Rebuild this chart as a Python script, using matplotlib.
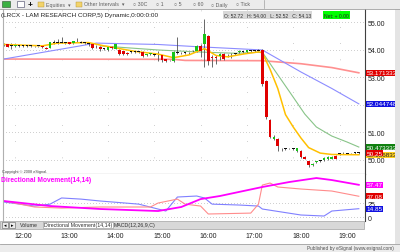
import matplotlib
matplotlib.use("Agg")
import matplotlib.pyplot as plt
from matplotlib.patches import Rectangle
from matplotlib.transforms import blended_transform_factory

plt.rcParams['font.family'] = ['Liberation Sans', 'DejaVu Sans']

# 5 minute bars, 11:35 .. 19:15 (bar index 0..92)
hour_labels = ['12:00', '13:00', '14:00', '15:00', '16:00', '17:00', '18:00', '19:00']
hour_bars = [5, 17, 29, 41, 53, 65, 77, 89]

opens = [54.20, 54.20, 54.16, 54.13, 54.16, 54.15, 54.14, 54.15, 54.13, 54.14,
         54.13, 54.08, 54.08, 54.27, 54.25, 54.27, 54.25, 54.29, 54.24, 54.31,
         54.27, 54.25, 54.22, 54.20, 54.13, 54.12, 54.04, 54.00, 54.10, 54.05,
         54.00, 53.95, 53.90, 53.93, 53.93, 53.92, 53.93, 53.80, 53.84, 53.82,
         53.80, 53.80, 53.67, 53.62, 53.60, 53.90, 53.88, 53.90, 53.88, 53.95,
         53.96, 54.15, 54.22, 54.51, 53.75, 53.76, 53.78, 53.85, 53.80, 53.80,
         53.85, 53.92, 53.93, 53.92, 53.96, 53.96, 53.98, 54.00, 52.87, 51.45,
         50.76, 50.76, 50.42, 50.40, 50.42, 50.40, 50.33, 50.33, 50.12, 49.96,
         49.82, 49.92, 49.96, 50.00, 50.03, 50.04, 50.15, 50.22, 50.24, 50.22,
         50.24, 50.27, 50.25]
closes = [54.20, 54.12, 54.16, 54.17, 54.16, 54.15, 54.14, 54.15, 54.13, 54.14,
          54.09, 54.04, 54.29, 54.27, 54.25, 54.27, 54.25, 54.22, 54.31, 54.31,
          54.27, 54.25, 54.22, 54.07, 54.13, 54.05, 54.04, 54.10, 54.08, 54.20,
          53.85, 53.85, 53.85, 53.93, 53.93, 53.92, 53.78, 53.85, 53.88, 53.82,
          53.80, 53.62, 53.60, 53.62, 53.93, 53.90, 53.88, 53.90, 53.88, 53.97,
          54.15, 53.96, 54.58, 53.60, 53.70, 53.72, 53.85, 53.67, 53.80, 53.80,
          53.85, 53.98, 53.93, 53.99, 53.96, 53.96, 53.98, 52.76, 51.56, 50.84,
          50.84, 50.51, 50.42, 50.40, 50.42, 50.40, 50.42, 50.11, 50.04, 49.80,
          49.86, 49.96, 49.96, 50.08, 50.11, 50.11, 50.04, 50.22, 50.24, 50.22,
          50.24, 50.27, 50.25]
highs = [54.24, 54.22, 54.25, 54.20, 54.18, 54.18, 54.17, 54.17, 54.16, 54.16,
         54.14, 54.09, 54.30, 54.36, 54.40, 54.47, 54.30, 54.30, 54.33, 54.45,
         54.32, 54.30, 54.26, 54.22, 54.18, 54.15, 54.08, 54.12, 54.15, 54.22,
         54.02, 53.97, 53.92, 53.96, 53.95, 53.95, 53.95, 53.87, 53.90, 53.86,
         53.96, 53.82, 53.69, 53.65, 53.95, 54.47, 53.92, 53.93, 53.91, 54.00,
         54.18, 54.22, 55.13, 54.55, 53.82, 53.80, 53.90, 53.88, 53.84, 53.88,
         53.88, 54.00, 53.96, 54.01, 53.99, 53.99, 54.02, 54.02, 52.90, 51.50,
         50.90, 50.80, 50.45, 50.43, 50.45, 50.43, 50.45, 50.35, 50.14, 49.98,
         49.90, 49.98, 50.00, 50.10, 50.13, 50.13, 50.17, 50.26, 50.28, 50.25,
         50.26, 50.30, 50.28]
lows = [54.16, 54.10, 54.04, 54.10, 54.12, 54.12, 54.12, 54.11, 54.11, 54.12,
        54.08, 54.02, 54.06, 54.22, 54.22, 54.24, 54.20, 54.20, 54.22, 54.28,
        54.24, 54.20, 54.16, 54.05, 54.08, 53.98, 54.00, 53.98, 54.05, 54.02,
        53.83, 53.82, 53.82, 53.90, 53.90, 53.89, 53.76, 53.78, 53.82, 53.78,
        53.60, 53.58, 53.58, 53.60, 53.58, 53.85, 53.85, 53.87, 53.85, 53.92,
        53.94, 53.76, 53.38, 53.45, 53.38, 53.50, 53.65, 53.62, 53.76, 53.72,
        53.80, 53.90, 53.90, 53.90, 53.94, 53.93, 53.95, 52.70, 51.50, 50.80,
        50.72, 50.33, 50.33, 50.37, 50.39, 50.37, 50.30, 50.08, 50.02, 49.76,
        49.78, 49.90, 49.92, 49.98, 50.01, 50.02, 50.02, 50.18, 50.20, 50.20,
        50.21, 50.22, 50.22]

# moving averages at a few bars
slow_bars = [0, 44, 47, 67, 77, 85, 92]
slow_ma = [53.67, 53.66, 53.62, 53.61, 53.50, 53.36, 53.17]
blue_bars = [0, 12, 24, 40, 50, 60, 67, 77, 85, 92]
blue_ma = [53.67, 53.96, 54.25, 54.20, 54.12, 54.05, 54.00, 53.20, 52.60, 52.04]
green_bars = [25, 40, 50, 60, 67, 70, 74, 78, 81, 85, 89, 92]
green_ma = [54.15, 54.00, 53.93, 53.88, 53.92, 53.30, 52.49, 51.67, 51.20, 50.87, 50.65, 50.47]
yel_bars = [0, 10, 14, 22, 26, 30, 34, 40, 44, 48, 52, 55, 58, 62, 66, 67, 69, 71,
            73, 75, 77, 79, 82, 85, 92]
yel_ma = [54.20, 54.15, 54.25, 54.27, 54.15, 54.05, 53.95, 53.85, 53.72, 53.82, 54.05,
          53.80, 53.75, 53.85, 53.93, 53.90, 53.30, 52.60, 51.65, 51.20, 50.80, 50.45,
          50.25, 50.20, 50.19]

# directional movement (14,14)
adx_bars = [0, 12, 25, 40, 46, 51, 56, 67, 74, 81, 85, 92]
adx = [28.6, 19.6, 14.3, 10.7, 17.9, 32.0, 37.5, 53.6, 62.5, 69.6, 66.0, 57.47]
mdi_bars = [0, 8, 15, 25, 38, 40, 45, 47, 51, 53, 64, 66, 67, 69, 71, 77, 85, 92]
mdi = [28.6, 17.9, 16.0, 17.9, 17.9, 25.0, 32.0, 23.0, 19.6, 5.4, 7.0, 23.0, 57.0,
       60.7, 53.6, 50.0, 46.4, 37.08]
pdi_bars = [0, 8, 12, 15, 20, 25, 35, 42, 45, 50, 52, 54, 61, 66, 67, 77, 83, 85, 92]
pdi = [26.8, 19.6, 23.0, 34.0, 32.0, 28.6, 23.0, 10.7, 35.7, 37.5, 34.0, 23.0, 21.4,
       19.6, 14.3, 3.6, 1.8, 10.7, 14.85]

price_ticks = [50, 51, 53, 54, 55]   # 52.00 sits under the blue tag
grid_prices = [50, 51, 52, 53, 54, 55]
grid_bars = [3, 15, 27, 39, 51, 63, 75, 87]

W, H = 400, 253
fig = plt.figure(figsize=(4, 2.53), dpi=100)
fig.patch.set_facecolor('white')


def fx(px):
    return px / W


def fy(py):
    return 1 - py / H


ax = fig.add_axes([fx(3), fy(175), fx(362), 165 / H])
ax2 = fig.add_axes([fx(3), fy(222), fx(362), 47 / H], sharex=ax)

# ---- price panel ----
x = list(range(len(closes)))
ax.vlines(x, lows, highs, color='#505050', lw=0.6, zorder=2)
cols, bottoms, heights = [], [], []
for o, c in zip(opens, closes):
    if c > o:
        cols.append('#19C419')
    elif c < o:
        cols.append('#E00000')
    else:
        cols.append('#101010')
    bottoms.append(min(o, c))
    heights.append(max(abs(c - o), 0.025))
ax.bar(x, heights, bottom=bottoms, width=0.7, color=cols, lw=0, zorder=3)

ax.plot(slow_bars, slow_ma, color='#FF9090', lw=1.2, zorder=1)
ax.plot(blue_bars, blue_ma, color='#8C8CFF', lw=0.8, zorder=1)
ax.plot(green_bars, green_ma, color='#88C488', lw=0.8, zorder=1)
ax.plot(yel_bars, yel_ma, color='#FFC000', lw=1.1, zorder=2)

ax.set_xlim(-0.18, 93.6)
ax.set_ylim(49.49, 55.49)
ax.yaxis.tick_right()
ax.set_yticks(price_ticks, [f'{p:.2f}' for p in price_ticks])
ax.tick_params(axis='y', length=0, pad=2, labelsize=5, labelcolor='#202020')
ax.tick_params(axis='x', length=0, labelbottom=False)
for p in grid_prices:
    ax.axhline(p, color='#909090', linestyle=(0, (0.6, 3)), lw=0.6, zorder=0)
for g in grid_bars:
    ax.axvline(g, color='#909090', linestyle=(0, (0.6, 19)), lw=0.6, zorder=0)
ax.spines['top'].set_visible(False)
ax.spines['left'].set_color('#B0B0B0')
ax.spines['right'].set_color('#404040')
ax.spines['bottom'].set_color('#404040')
ax.spines['right'].set_linewidth(0.8)
ax.spines['bottom'].set_linewidth(0.8)

tr = blended_transform_factory(ax.transAxes, ax.transData)
lx = 1.004


def tag(a, t, val, text, bg, fg='white'):
    a.text(lx, val, text, transform=t, fontsize=4.6, color=fg, va='center', ha='left',
           zorder=5, clip_on=False,
           bbox=dict(boxstyle='square,pad=0.1', fc=bg, ec='none'))


tag(ax, tr, slow_ma[-1], '53.171333', '#E00000')
tag(ax, tr, blue_ma[-1], '52.044748', '#1010E0')
tag(ax, tr, green_ma[-1], '50.473333', '#108010')
tag(ax, tr, yel_ma[-1], '50.186833', '#FFD020', '#202020')
tag(ax, tr, closes[-1], '50.25', '#E00000')

# ---- directional movement panel ----
ax2.plot(pdi_bars, pdi, color='#8080FF', lw=0.8)
ax2.plot(mdi_bars, mdi, color='#FF8C8C', lw=0.8)
ax2.plot(adx_bars, adx, color='#FF00FF', lw=1.3)
ax2.set_ylim(-7.1, 76.8)
ax2.yaxis.tick_right()
ax2.set_yticks([0, 25], ['0', '25'])
ax2.tick_params(axis='y', length=0, pad=2, labelsize=5, labelcolor='#202020')
ax2.set_xticks(hour_bars, hour_labels)
ax2.tick_params(axis='x', length=0, pad=7.6, labelsize=5, labelcolor='#202020')
ax2.grid(axis='y', color='#909090', linestyle=(0, (0.6, 3)), lw=0.6)
ax2.spines['top'].set_visible(False)
ax2.spines['left'].set_color('#B0B0B0')
ax2.spines['right'].set_color('#404040')
ax2.spines['bottom'].set_visible(False)
tr2 = blended_transform_factory(ax2.transAxes, ax2.transData)
tag(ax2, tr2, adx[-1], '57.47', '#FF00FF')
tag(ax2, tr2, mdi[-1], '37.08', '#E00000')
tag(ax2, tr2, pdi[-1], '14.85', '#1010E0')

# ---- window chrome ----
fig.patches.append(Rectangle((0, fy(10)), 1, 10 / H, transform=fig.transFigure,
                             fc='#ECECEC', ec='none', zorder=0))
fig.add_artist(plt.Line2D([0, 1], [fy(10), fy(10)], color='#A0A0A0', lw=0.6))
fig.patches.append(Rectangle((fx(2), fy(8)), fx(8), 6 / H, transform=fig.transFigure,
                             fc='#3CB043', ec='#305030', lw=0.4))
fig.patches.append(Rectangle((fx(17), fy(8)), fx(7), 6 / H, transform=fig.transFigure,
                             fc='#FFFFFF', ec='#404060', lw=0.4))
fig.text(fx(28), fy(5), '+', fontsize=6, weight='bold', va='center')
for px, lab in [(38, 'Equities  \u25be'), (76, 'Other Intervals  \u25be')]:
    fig.patches.append(Rectangle((fx(px), fy(8)), fx(6), 5 / H, transform=fig.transFigure,
                                 fc='#F2D36B', ec='#B09030', lw=0.3))
    fig.text(fx(px + 8), fy(5), lab, fontsize=3.8, color='#606060', va='center')
for px, lab in [(133, '\u25cb 30C'), (156, '\u25cb 1'), (174, '\u25cb 5'),
                (193, '\u25cb 60'), (211, '\u25cb Daily'), (236, '\u25cb Tick')]:
    fig.text(fx(px), fy(5), lab, fontsize=3.8, color='#606060', va='center')
fig.add_artist(plt.Line2D([fx(264), fx(264)], [fy(1), fy(9)], color='#A0A0A0', lw=0.5))

fig.text(fx(1), fy(15), '(LRCX - LAM RESEARCH CORP,5) Dynamic,0:00:0:00',
         fontsize=4.6, color='#202020', va='center')
fig.text(fx(224), fy(16), 'O: 52.72   H: 54.00   L: 52.52   C: 54.13',
         fontsize=3.6, color='#303030', va='center',
         bbox=dict(boxstyle='square,pad=0.25', fc='#D8D8D8', ec='none'))
fig.text(fx(324), fy(16), 'Net: + 0.00', fontsize=3.6, color='#202020', va='center',
         bbox=dict(boxstyle='square,pad=0.25', fc='#00FF00', ec='none'))
fig.text(fx(2), fy(172), 'Copyright \u00a9 2008 eSignal.', fontsize=2.8,
         color='#404040', va='center')
fig.text(fx(1), fy(181), 'Directional Movement(14,14)', fontsize=4.8,
         color='#FF00FF', weight='bold', va='center')

# tab bar below indicator panel
fig.patches.append(Rectangle((0, fy(230)), fx(364), 8 / H, transform=fig.transFigure,
                             fc='#D8D8D8', ec='#909090', lw=0.4))
for px, arrow in [(2, '\u25c2'), (9, '\u25b8')]:
    fig.patches.append(Rectangle((fx(px), fy(229)), fx(6), 6 / H, transform=fig.transFigure,
                                 fc='#ECECEC', ec='#606060', lw=0.4))
    fig.text(fx(px + 3), fy(226), arrow, fontsize=3.5, ha='center', va='center')
fig.text(fx(20), fy(226), 'Volume', fontsize=3.8, va='center', color='#303030')
fig.text(fx(44), fy(226), 'Directional Movement(14,14)', fontsize=3.8, va='center',
         color='#303030', bbox=dict(boxstyle='square,pad=0.15', fc='white', ec='#909090', lw=0.4))
fig.text(fx(114), fy(226), 'MACD(12,26,9,C)', fontsize=3.8, va='center', color='#303030')

# status bar and right edge
fig.patches.append(Rectangle((0, 0), 1, 8 / H, transform=fig.transFigure,
                             fc='#ECECEC', ec='none'))
fig.add_artist(plt.Line2D([0, 1], [fy(245), fy(245)], color='#A0A0A0', lw=0.6))
fig.text(fx(394), fy(249), 'Published by eSignal (www.esignal.com)', fontsize=3.4,
         color='#505050', ha='right', va='center')
fig.patches.append(Rectangle((fx(395), fy(245)), fx(5), 235 / H, transform=fig.transFigure,
                             fc='#E4E4E4', ec='none'))

fig.savefig('out.png', dpi=100)
